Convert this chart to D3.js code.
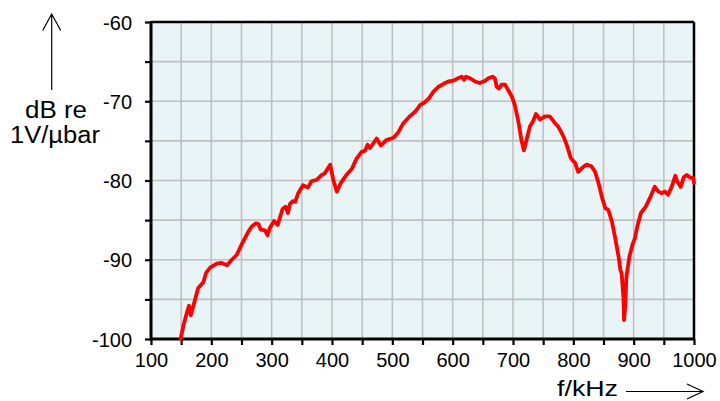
<!DOCTYPE html>
<html>
<head>
<meta charset="utf-8">
<script src="https://cdn.jsdelivr.net/npm/d3@7"></script>
<style>
  html, body { margin: 0; padding: 0; background: #fff; }
  svg { display: block; font-family: "Liberation Sans", Arial, sans-serif; }
</style>
</head>
<body>
<svg id="chart" width="720" height="401"></svg>
<script>
// Hydrophone sensitivity vs frequency
const freqKHz = [149, 153.5, 159, 163, 166, 170, 178, 187, 191, 198, 209, 217, 226, 234, 242, 250, 261, 267, 274, 278, 282, 289, 293, 297, 304, 310, 314, 318, 323, 327, 330, 335, 339, 344, 352, 360, 366, 375, 383, 388, 397, 402, 408, 414, 424, 433, 441, 449, 455, 459, 463, 474, 481, 490, 502, 510, 518, 529, 538, 546, 554, 561, 568, 576, 585, 593, 601, 609, 615, 619, 622, 629, 637, 645, 654, 659, 666, 670, 673, 677, 681, 687, 692, 698, 703, 709, 714, 718, 723, 728, 734, 738, 745, 753, 761, 770, 775, 784, 789, 796, 803, 808, 816, 822, 830, 836, 842, 847, 853, 858, 864, 869, 875, 878, 880, 883, 884, 886, 888, 893, 898, 902, 906, 912, 920, 927, 935, 941, 946, 952, 957, 963, 969, 972, 978, 983, 988, 993, 999, 1000];
const levelDb = [-100, -98.4, -96.8, -95.8, -97.0, -95.9, -93.6, -92.8, -91.7, -91.0, -90.5, -90.4, -90.7, -90.0, -89.4, -88.1, -86.5, -85.8, -85.4, -85.5, -86.2, -86.3, -86.9, -86.0, -85.1, -85.6, -84.6, -83.6, -83.3, -84.1, -83.0, -82.6, -82.7, -81.6, -80.6, -80.9, -80.1, -79.9, -79.3, -79.1, -78.0, -79.9, -81.4, -80.4, -79.3, -78.5, -77.2, -76.4, -76.2, -75.5, -75.9, -74.7, -75.6, -74.9, -74.6, -73.9, -72.8, -71.9, -71.3, -70.5, -70.1, -69.6, -68.8, -68.2, -67.8, -67.5, -67.4, -67.1, -66.9, -67.3, -66.9, -67.1, -67.5, -67.7, -67.4, -67.1, -66.9, -67.1, -68.2, -68.4, -67.9, -67.9, -68.6, -69.4, -70.5, -72.6, -74.9, -76.2, -74.7, -73.2, -72.4, -71.6, -72.3, -71.9, -71.9, -72.8, -73.2, -74.5, -75.5, -77.2, -77.8, -78.9, -78.3, -78.0, -78.2, -78.9, -80.4, -82.0, -83.5, -83.7, -85.2, -87.1, -89.6, -91.3, -91.7, -94.7, -97.6, -95.9, -92.1, -89.6, -88.1, -87.3, -85.8, -84.1, -83.3, -82.2, -80.8, -81.4, -81.6, -81.4, -81.8, -80.8, -79.4, -80.1, -80.8, -79.6, -79.3, -79.6, -79.7, -80.3];
const xTickLabels = [100, 200, 300, 400, 500, 600, 700, 800, 900, 1000];
const yTickLabels = [-60, -70, -80, -90, -100];

const svg = d3.select("#chart");
const plotL = 151, plotR = 694, plotT = 22, plotB = 339;

const x = d3.scaleLinear().domain([100, 1000]).range([plotL, plotR]);
const y = d3.scaleLinear().domain([-100, -60]).range([plotB, plotT]);

const xMinor = d3.range(100, 1001, 50);
const yMinor = d3.range(-100, -59, 5);

// plot background
svg.append("rect")
  .attr("x", plotL).attr("y", plotT)
  .attr("width", plotR - plotL).attr("height", plotB - plotT)
  .attr("fill", "#e9f4f6");

// grid
const grid = svg.append("g").attr("stroke", "#c0c0c0").attr("stroke-width", 1.6);
grid.selectAll("line.v").data(xMinor.slice(1, -1)).join("line")
  .attr("x1", d => x(d)).attr("x2", d => x(d))
  .attr("y1", plotT).attr("y2", plotB);
grid.selectAll("line.h").data(yMinor.slice(1, -1)).join("line")
  .attr("y1", d => y(d)).attr("y2", d => y(d))
  .attr("x1", plotL).attr("x2", plotR);

// axes (ticks every 50 kHz / 5 dB, labelled every 100 kHz / 10 dB)
const xAxis = d3.axisBottom(x).tickValues(xMinor).tickSize(6).tickSizeOuter(0)
  .tickFormat(d => xTickLabels.includes(d) ? d : "").tickPadding(10);
const gx = svg.append("g").attr("transform", `translate(0,${plotB})`).call(xAxis);
gx.select(".domain").remove();
gx.selectAll(".tick line").attr("stroke", "#000").attr("stroke-width", 2.2);
gx.selectAll(".tick text").attr("font-size", 20).attr("fill", "#000")
  .attr("font-family", "Liberation Sans, Arial, sans-serif").attr("dy", "0.6em");

const yAxis = d3.axisLeft(y).tickValues(yMinor).tickSize(6).tickSizeOuter(0)
  .tickFormat(d => yTickLabels.includes(d) ? d : "").tickPadding(13);
const gy = svg.append("g").attr("transform", `translate(${plotL},0)`).call(yAxis);
gy.select(".domain").remove();
gy.selectAll(".tick line").attr("stroke", "#000").attr("stroke-width", 2.2);
gy.selectAll(".tick text").attr("font-size", 20).attr("fill", "#000")
  .attr("font-family", "Liberation Sans, Arial, sans-serif").attr("dy", "0.36em");

// frame
svg.append("line").attr("x1", plotL).attr("x2", plotR).attr("y1", plotT).attr("y2", plotT)
  .attr("stroke", "#000").attr("stroke-width", 2.5);
svg.append("line").attr("x1", plotR).attr("x2", plotR).attr("y1", plotT).attr("y2", plotB)
  .attr("stroke", "#000").attr("stroke-width", 2.5);
svg.append("line").attr("x1", plotL).attr("x2", plotR).attr("y1", plotB).attr("y2", plotB)
  .attr("stroke", "#000").attr("stroke-width", 3);
svg.append("line").attr("x1", plotL).attr("x2", plotL).attr("y1", plotT - 1).attr("y2", plotB + 1.5)
  .attr("stroke", "#000").attr("stroke-width", 3);

// response curve
const line = d3.line().x((d, i) => x(freqKHz[i])).y(d => y(d)).curve(d3.curveLinear);
svg.append("path")
  .datum(levelDb)
  .attr("d", line)
  .attr("fill", "none")
  .attr("stroke", "#ff0000")
  .attr("stroke-width", 3.8)
  .attr("stroke-linejoin", "round")
  .attr("stroke-linecap", "round");

// axis titles with arrows
svg.append("text").attr("x", 25).attr("y", 118)
  .attr("font-size", 23).attr("textLength", 62).attr("lengthAdjust", "spacingAndGlyphs")
  .text("dB re");
svg.append("text").attr("x", 10).attr("y", 143)
  .attr("font-size", 23).attr("textLength", 90).attr("lengthAdjust", "spacingAndGlyphs")
  .text("1V/µbar");
svg.append("path")
  .attr("d", "M51.7,90 L51.7,14 M42.7,30.5 L51.7,14 L60.7,30.5")
  .attr("fill", "none").attr("stroke", "#000").attr("stroke-width", 1.2);

svg.append("text").attr("x", 557).attr("y", 396)
  .attr("font-size", 22).attr("textLength", 61).attr("lengthAdjust", "spacingAndGlyphs")
  .text("f/kHz");
svg.append("path")
  .attr("d", "M626,391.5 L703,391.5 M687,384 L703,391.5 L687,399")
  .attr("fill", "none").attr("stroke", "#000").attr("stroke-width", 1.2);
</script>
</body>
</html>
